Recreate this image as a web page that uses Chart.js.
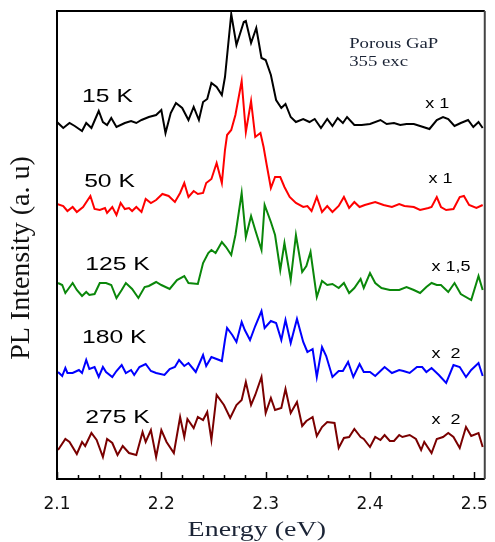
<!DOCTYPE html>
<html>
<head>
<meta charset="utf-8">
<script src="https://cdn.jsdelivr.net/npm/chart.js@4.4.1/dist/chart.umd.min.js"></script>
<style>
  html, body { margin: 0; padding: 0; background: #fff; }
  canvas { display: block; }
</style>
</head>
<body>
<canvas id="pl" width="495" height="542"></canvas>
<script>
// PL spectra of porous GaP (energy in eV, intensity in a.u. incl. stacking offset)
const e15 = [2.100,2.106,2.112,2.117,2.124,2.128,2.133,2.140,2.144,2.148,2.152,2.157,2.165,2.171,2.176,2.181,2.188,2.195,2.200,2.204,2.209,2.214,2.220,2.226,2.231,2.236,2.240,2.244,2.248,2.253,2.258,2.261,2.267,2.272,2.279,2.281,2.286,2.291,2.296,2.300,2.305,2.310,2.315,2.319,2.324,2.329,2.336,2.342,2.347,2.353,2.359,2.364,2.369,2.374,2.378,2.385,2.392,2.400,2.410,2.416,2.423,2.429,2.435,2.442,2.448,2.457,2.464,2.470,2.475,2.481,2.487,2.494,2.499,2.504,2.508];
const i15 = [357,351,356,353,348,356,351,368,357,354,361,352,356,358,356,359,362,364,369,346,366,376,371,359,372,359,377,380,396,392,384,402,465,434,457,458,436,451,421,419,404,379,371,375,362,357,360,357,360,351,360,353,361,356,362,354,354,355,359,355,356,354,355,355,353,350,359,362,360,353,356,359,352,357,351];

const e50 = [2.100,2.106,2.110,2.115,2.119,2.125,2.132,2.136,2.141,2.146,2.148,2.153,2.157,2.161,2.165,2.169,2.172,2.176,2.181,2.185,2.190,2.195,2.201,2.207,2.213,2.218,2.222,2.226,2.231,2.235,2.240,2.243,2.248,2.253,2.258,2.261,2.263,2.267,2.271,2.277,2.281,2.286,2.290,2.295,2.298,2.301,2.305,2.309,2.314,2.318,2.323,2.329,2.336,2.340,2.344,2.349,2.354,2.359,2.364,2.370,2.375,2.380,2.385,2.390,2.395,2.405,2.413,2.421,2.428,2.433,2.442,2.448,2.456,2.459,2.464,2.468,2.473,2.480,2.486,2.490,2.495,2.502,2.508];
const i50 = [275,273,268,272,267,272,283,270,269,271,266,272,264,276,270,271,268,272,267,280,276,279,285,283,277,286,296,282,288,285,286,296,300,316,296,329,344,349,364,398,347,378,342,346,332,314,291,302,302,292,282,276,272,273,268,282,267,273,267,273,282,271,277,272,274,277,274,272,275,273,272,269,271,272,282,272,269,270,282,283,274,271,274];

const e125 = [2.101,2.105,2.108,2.115,2.119,2.124,2.128,2.131,2.136,2.141,2.147,2.152,2.157,2.162,2.166,2.172,2.178,2.184,2.188,2.195,2.200,2.208,2.215,2.222,2.226,2.235,2.240,2.245,2.248,2.252,2.258,2.262,2.267,2.271,2.277,2.281,2.286,2.290,2.296,2.299,2.305,2.309,2.314,2.318,2.324,2.329,2.335,2.339,2.343,2.349,2.354,2.359,2.364,2.370,2.375,2.380,2.385,2.391,2.394,2.400,2.405,2.411,2.419,2.428,2.435,2.442,2.448,2.454,2.459,2.464,2.468,2.475,2.481,2.487,2.497,2.504,2.508];
const i125 = [196,194,186,196,189,183,187,184,185,196,196,194,181,189,196,190,181,192,193,197,194,190,199,203,196,195,216,226,229,226,237,232,224,244,286,242,263,249,229,274,257,244,209,236,199,244,207,213,227,182,198,194,195,191,196,186,191,200,191,206,196,191,189,189,192,189,186,192,196,194,194,187,196,185,179,203,189];

const e180 = [2.101,2.105,2.108,2.110,2.115,2.121,2.124,2.128,2.131,2.136,2.140,2.144,2.147,2.153,2.157,2.162,2.166,2.171,2.174,2.179,2.185,2.190,2.195,2.203,2.208,2.213,2.217,2.222,2.226,2.233,2.240,2.243,2.248,2.258,2.261,2.263,2.268,2.272,2.277,2.280,2.285,2.290,2.296,2.299,2.305,2.310,2.315,2.319,2.324,2.330,2.336,2.340,2.345,2.349,2.354,2.358,2.364,2.370,2.374,2.379,2.384,2.390,2.394,2.400,2.405,2.410,2.414,2.421,2.428,2.432,2.438,2.445,2.450,2.454,2.459,2.466,2.473,2.480,2.486,2.492,2.497,2.504,2.508];
const i180 = [107,103,111,106,106,109,106,119,110,112,102,112,107,102,108,114,106,109,104,112,115,108,106,104,110,112,119,113,116,107,124,113,122,118,139,151,144,137,157,149,139,153,168,151,158,156,139,159,136,160,137,127,130,102,132,123,102,108,108,117,102,115,107,107,103,108,112,106,109,108,106,112,112,107,111,104,96,114,112,102,109,116,103];

const e275 = [2.101,2.108,2.112,2.119,2.124,2.127,2.133,2.138,2.144,2.148,2.153,2.158,2.163,2.169,2.176,2.182,2.185,2.190,2.195,2.200,2.205,2.212,2.218,2.222,2.225,2.231,2.235,2.240,2.244,2.248,2.253,2.260,2.266,2.272,2.277,2.281,2.286,2.290,2.296,2.300,2.305,2.309,2.315,2.319,2.324,2.330,2.335,2.339,2.345,2.349,2.354,2.359,2.366,2.370,2.375,2.380,2.385,2.391,2.394,2.400,2.405,2.410,2.414,2.419,2.423,2.428,2.431,2.438,2.444,2.449,2.452,2.459,2.464,2.470,2.475,2.480,2.486,2.492,2.497,2.504,2.508];
const i275 = [29,40,37,25,37,33,46,39,22,40,36,24,33,26,24,47,37,49,22,49,37,26,62,42,60,51,62,59,67,39,84,74,61,74,79,97,74,84,102,66,81,69,71,90,66,77,53,58,62,43,52,57,56,31,41,42,50,42,40,32,42,39,44,38,38,44,42,44,40,29,37,26,40,42,46,42,31,52,43,46,32];

const tempLabels = ['15 K', '50 K', '125 K', '180 K', '275 K'];
const factorLabels = ['x 1', 'x 1', 'x 1,5', 'x \u00a02', 'x \u00a02'];
const seriesColors = ['#000000', '#ff0000', '#0a870a', '#0000ff', '#7a0000'];
const xTickValues = [2.1, 2.2, 2.3, 2.4, 2.5];

function pts(xs, ys) {
  return xs.map((x, i) => ({ x: x, y: ys[i] }));
}

// where the annotations sit, in data units (energy, intensity)
const tempAt = [[2.124, 382], [2.126, 297], [2.127, 214], [2.124, 141], [2.127, 61]];
const factorAt = [[2.453, 375], [2.456, 300], [2.459, 212], [2.459, 125], [2.459, 59]];

function stretched(ctx, text, x, y, sx) {
  ctx.save();
  ctx.translate(x, y);
  ctx.scale(sx, 1);
  ctx.fillText(text, 0, 0);
  ctx.restore();
}

const framePlugin = {
  id: 'frame',
  afterDraw(chart) {
    const ctx = chart.ctx;
    const a = chart.chartArea;
    const xs = chart.scales.x;
    const ys = chart.scales.y;

    // inward ticks on bottom axis, minor every 0.02
    ctx.save();
    ctx.strokeStyle = '#000';
    ctx.lineWidth = 1.5;
    for (let k = 0; k <= 20; k++) {
      const v = 2.1 + k * 0.02;
      const px = Math.round(xs.getPixelForValue(v)) + 0.5;
      const len = (k % 5 === 0) ? 7 : 4;
      ctx.beginPath();
      ctx.moveTo(px, a.bottom);
      ctx.lineTo(px, a.bottom - len);
      ctx.stroke();
    }

    // box
    ctx.lineWidth = 2;
    ctx.strokeStyle = '#000';
    ctx.beginPath();
    ctx.moveTo(a.right, a.top);
    ctx.lineTo(a.left, a.top);
    ctx.lineTo(a.left, a.bottom);
    ctx.lineTo(a.right, a.bottom);
    ctx.stroke();
    ctx.strokeStyle = '#444';
    ctx.beginPath();
    ctx.moveTo(a.right, a.top);
    ctx.lineTo(a.right, a.bottom);
    ctx.stroke();

    // axis titles (sit a bit off-centre in the original)
    ctx.textAlign = 'center';
    ctx.textBaseline = 'middle';
    ctx.fillStyle = '#1b2436';
    ctx.font = '22px "Liberation Serif"';
    stretched(ctx, 'Energy (eV)', xs.getPixelForValue(2.2915), 530, 1.27);
    ctx.save();
    ctx.fillStyle = '#111';
    ctx.translate(22, ys.getPixelForValue(221));
    ctx.rotate(-Math.PI / 2);
    ctx.font = '28px "Liberation Serif"';
    ctx.fillText('PL Intensity (a. u)', 0, 0);
    ctx.restore();

    // labels
    ctx.fillStyle = '#000';
    ctx.textAlign = 'left';
    ctx.font = '19px "Liberation Sans"';
    tempLabels.forEach((t, i) => {
      stretched(ctx, t, xs.getPixelForValue(tempAt[i][0]), ys.getPixelForValue(tempAt[i][1]), 1.3);
    });
    ctx.font = '15px "Liberation Sans"';
    factorLabels.forEach((t, i) => {
      stretched(ctx, t, xs.getPixelForValue(factorAt[i][0]), ys.getPixelForValue(factorAt[i][1]), 1.2);
    });
    ctx.fillStyle = '#1b2436';
    ctx.font = '15px "Liberation Serif"';
    stretched(ctx, 'Porous GaP', xs.getPixelForValue(2.380), ys.getPixelForValue(435), 1.25);
    stretched(ctx, '355 exc', xs.getPixelForValue(2.380), ys.getPixelForValue(417), 1.25);
    ctx.restore();
  }
};

const series = [[e15, i15], [e50, i50], [e125, i125], [e180, i180], [e275, i275]];

new Chart(document.getElementById('pl'), {
  type: 'line',
  data: {
    datasets: series.map((s, i) => ({
      label: tempLabels[i],
      data: pts(s[0], s[1]),
      borderColor: seriesColors[i],
      borderWidth: 2,
      pointRadius: 0,
      tension: 0,
      fill: false
    }))
  },
  options: {
    responsive: false,
    animation: false,
    devicePixelRatio: 1,
    layout: { padding: { top: 11, right: 6, left: 0, bottom: 0 } },
    plugins: { legend: { display: false }, tooltip: { enabled: false } },
    scales: {
      x: {
        type: 'linear',
        min: 2.1,
        max: 2.51,
        afterFit: s => { s.height = 63; },
        afterBuildTicks: s => { s.ticks = xTickValues.map(v => ({ value: v })); },
        ticks: {
          autoSkip: false,
          maxRotation: 0,
          padding: 7,
          color: '#111',
          font: { family: 'DejaVu Sans', size: 17 },
          callback: v => Number(v).toFixed(1)
        },
        grid: { display: false },
        border: { display: false },
        title: { display: false, text: 'Energy (eV)' }
      },
      y: {
        min: 0,
        max: 468,
        afterFit: s => { s.width = 57; },
        ticks: { display: false },
        grid: { display: false },
        border: { display: false },
        title: { display: false, text: 'PL Intensity (a. u)' }
      }
    }
  },
  plugins: [framePlugin]
});
</script>
</body>
</html>
